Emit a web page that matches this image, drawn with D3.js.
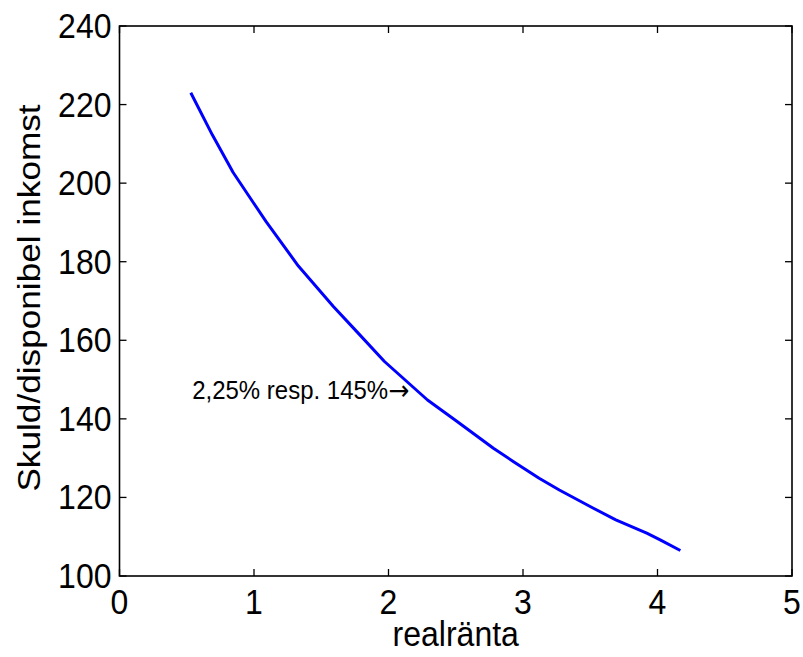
<!DOCTYPE html>
<html>
<head>
<meta charset="utf-8">
<script src="https://cdn.jsdelivr.net/npm/d3@7/dist/d3.min.js"></script>
<style>
  body { margin: 0; background: #fff; }
  text { font-family: "Liberation Sans", Arial, sans-serif; fill: #000; }
</style>
</head>
<body>
<div class="chart-container"></div>
<script>
// values
const realRanta = [0.53, 0.69, 0.845, 1.09, 1.33, 1.59, 1.74, 1.97, 2.29, 2.5, 2.78, 2.93, 3.12, 3.27, 3.52, 3.69, 3.92, 4.02, 4.17];
const skuld = [223.0, 212.3, 202.7, 190.2, 178.9, 168.6, 163.1, 154.6, 144.8, 139.6, 132.5, 129.1, 124.9, 121.9, 117.3, 114.3, 110.9, 109.2, 106.5];

const xTicks = [0, 1, 2, 3, 4, 5];
const yTicks = [100, 120, 140, 160, 180, 200, 220, 240];

const xLabel = "realränta";
const yLabel = "Skuld/disponibel inkomst";
const noteText = "2,25% resp. 145%";
const notePos = [0.54, 145];

const W = 803, H = 657;
const margin = {top: 26, right: 11, bottom: 81, left: 119.5};
const width = W - margin.left - margin.right,
    height = H - margin.top - margin.bottom;
const sy = 1.1; // picture is a bit stretched vertically

const svg = d3.select(".chart-container").append("svg")
    .attr("width", W)
    .attr("height", H)
  .append("g")
    .attr("transform", "translate(" + margin.left + "," + margin.top + ")");

const x = d3.scaleLinear().domain([0, 5]).range([0, width]);
const y = d3.scaleLinear().domain([100, 240]).range([height, 0]);

const tickLen = 7;

// ticks on all four sides, pointing inward
svg.selectAll(".xt-b").data(xTicks).enter().append("line")
    .attr("x1", d => x(d)).attr("x2", d => x(d))
    .attr("y1", height).attr("y2", height - tickLen);
svg.selectAll(".xt-t").data(xTicks).enter().append("line")
    .attr("x1", d => x(d)).attr("x2", d => x(d))
    .attr("y1", 0).attr("y2", tickLen);
svg.selectAll(".yt-l").data(yTicks).enter().append("line")
    .attr("y1", d => y(d)).attr("y2", d => y(d))
    .attr("x1", 0).attr("x2", tickLen);
svg.selectAll(".yt-r").data(yTicks).enter().append("line")
    .attr("y1", d => y(d)).attr("y2", d => y(d))
    .attr("x1", width).attr("x2", width - tickLen);
svg.selectAll("line").attr("stroke", "#000").attr("stroke-width", 1.3);

svg.append("rect")
    .attr("x", 0).attr("y", 0)
    .attr("width", width).attr("height", height)
    .attr("fill", "none")
    .attr("stroke", "#000")
    .attr("stroke-width", 1.6);

// tick labels
svg.selectAll(".xl").data(xTicks).enter().append("text")
    .attr("transform", d => "translate(" + x(d) + "," + (height + 38) + ") scale(1," + sy + ")")
    .style("text-anchor", "middle")
    .style("font-size", "32px")
    .text(d => d);

svg.selectAll(".yl").data(yTicks).enter().append("text")
    .attr("transform", d => "translate(-8," + (y(d) + 12) + ") scale(1," + sy + ")")
    .style("text-anchor", "end")
    .style("font-size", "32px")
    .text(d => d);

// axis titles
svg.append("text")
    .attr("transform", "translate(" + (width / 2) + "," + (height + 70) + ") scale(1," + sy + ")")
    .style("text-anchor", "middle")
    .style("font-size", "32px")
    .text(xLabel);

svg.append("text")
    .attr("transform", "translate(" + (40 - margin.left) + "," + (height / 2 - 3) + ") scale(1," + sy + ") rotate(-90)")
    .style("text-anchor", "middle")
    .style("font-size", "32px")
    .text(yLabel);

// curve
const line = d3.line()
    .x((d, i) => x(realRanta[i]))
    .y(d => y(d));

svg.append("path")
    .datum(skuld)
    .attr("d", line)
    .attr("fill", "none")
    .attr("stroke", "#0000ff")
    .attr("stroke-width", 3)
    .attr("stroke-linejoin", "round");

// annotation
const note = svg.append("text")
    .attr("transform", "translate(" + x(notePos[0]) + "," + y(notePos[1]) + ") scale(1," + sy + ")")
    .style("font-size", "24px");
note.append("tspan").text(noteText);
note.append("tspan")
    .style("font-family", "'DejaVu Sans', sans-serif")
    .style("font-size", "25px")
    .attr("dy", 1)
    .text("→");
</script>
</body>
</html>
